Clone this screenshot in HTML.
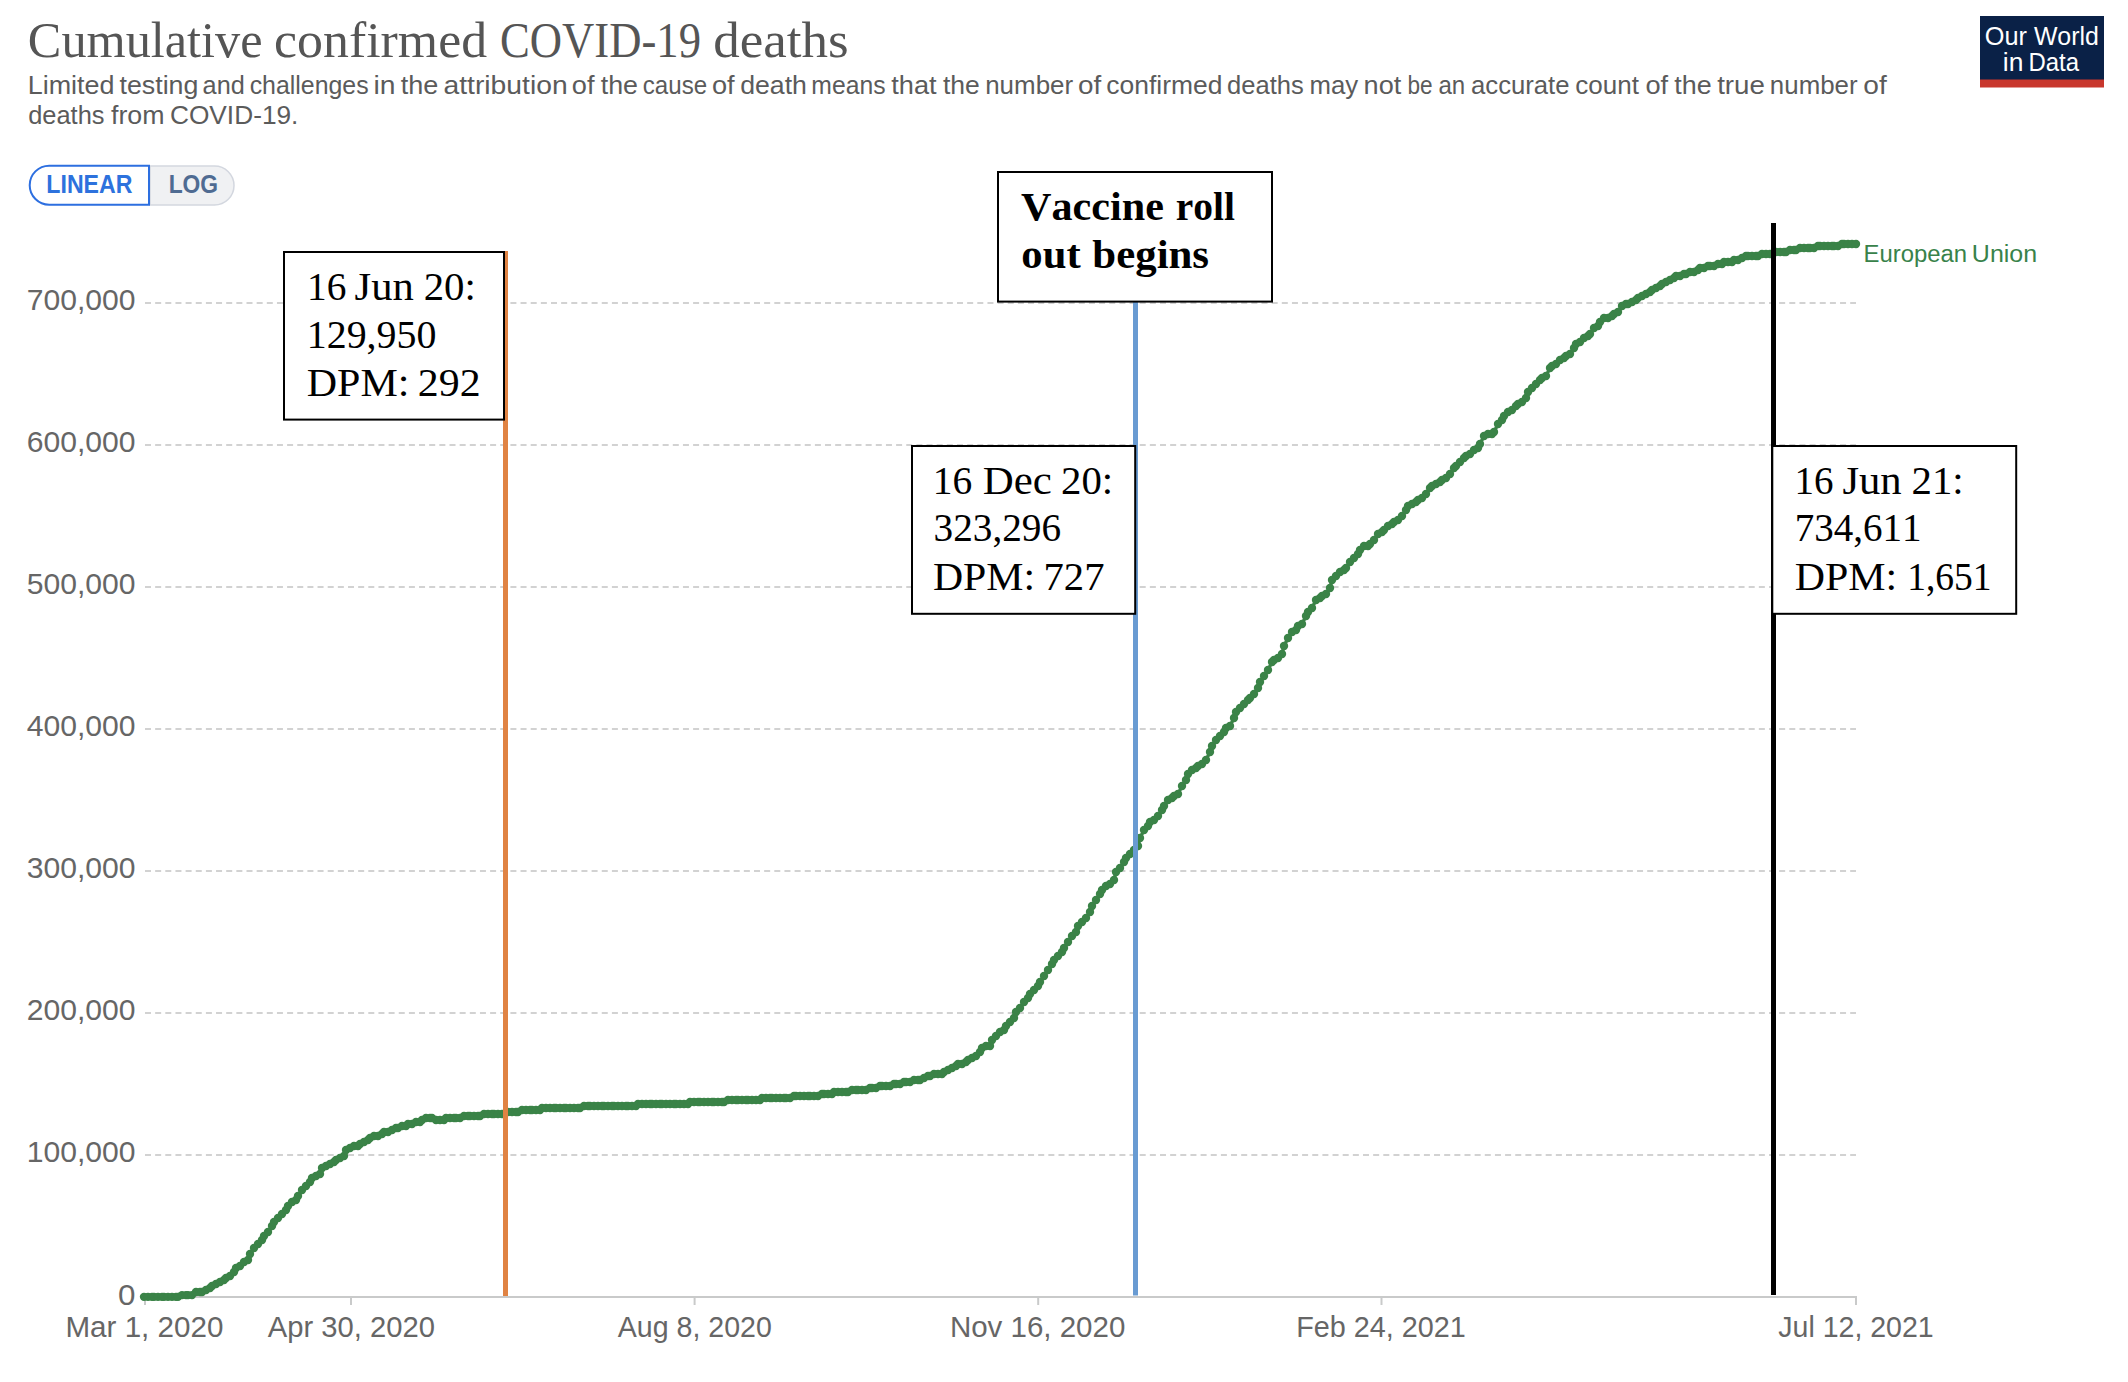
<!DOCTYPE html>
<html lang="en"><head><meta charset="utf-8"><title>Cumulative confirmed COVID-19 deaths</title>
<style>html,body{margin:0;padding:0;background:#fff}svg{display:block}text{white-space:pre;font-kerning:none}</style>
</head><body>
<svg width="2128" height="1382" viewBox="0 0 2128 1382">
<rect width="2128" height="1382" fill="#fff"/>
<text y="56.8" font-family='"Liberation Serif", "Times New Roman", serif' font-size="51" fill="#555"><tspan x="27.84" textLength="234.71" lengthAdjust="spacingAndGlyphs">Cumulative</tspan> <tspan x="274.13" textLength="212.91" lengthAdjust="spacingAndGlyphs">confirmed</tspan> <tspan x="500.07" textLength="200.96" lengthAdjust="spacingAndGlyphs">COVID-19</tspan> <tspan x="713.28" textLength="135.43" lengthAdjust="spacingAndGlyphs">deaths</tspan></text>
<text y="93.5" font-family='"Liberation Sans", Arial, sans-serif' font-size="25" fill="#5b5b5b"><tspan x="27.69" textLength="86.85" lengthAdjust="spacingAndGlyphs">Limited</tspan> <tspan x="119.49" textLength="78.93" lengthAdjust="spacingAndGlyphs">testing</tspan> <tspan x="202.63" textLength="42.20" lengthAdjust="spacingAndGlyphs">and</tspan> <tspan x="249.64" textLength="118.96" lengthAdjust="spacingAndGlyphs">challenges</tspan> <tspan x="373.41" textLength="22.03" lengthAdjust="spacingAndGlyphs">in</tspan> <tspan x="400.69" textLength="37.61" lengthAdjust="spacingAndGlyphs">the</tspan> <tspan x="443.50" textLength="124.14" lengthAdjust="spacingAndGlyphs">attribution</tspan> <tspan x="571.76" textLength="22.70" lengthAdjust="spacingAndGlyphs">of</tspan> <tspan x="600.69" textLength="37.30" lengthAdjust="spacingAndGlyphs">the</tspan> <tspan x="642.77" textLength="64.40" lengthAdjust="spacingAndGlyphs">cause</tspan> <tspan x="711.96" textLength="22.70" lengthAdjust="spacingAndGlyphs">of</tspan> <tspan x="740.18" textLength="66.75" lengthAdjust="spacingAndGlyphs">death</tspan> <tspan x="811.36" textLength="74.24" lengthAdjust="spacingAndGlyphs">means</tspan> <tspan x="891.29" textLength="45.31" lengthAdjust="spacingAndGlyphs">that</tspan> <tspan x="943.00" textLength="36.88" lengthAdjust="spacingAndGlyphs">the</tspan> <tspan x="985.18" textLength="87.95" lengthAdjust="spacingAndGlyphs">number</tspan> <tspan x="1078.03" textLength="23.23" lengthAdjust="spacingAndGlyphs">of</tspan> <tspan x="1106.28" textLength="116.13" lengthAdjust="spacingAndGlyphs">confirmed</tspan> <tspan x="1227.13" textLength="76.70" lengthAdjust="spacingAndGlyphs">deaths</tspan> <tspan x="1309.49" textLength="48.66" lengthAdjust="spacingAndGlyphs">may</tspan> <tspan x="1363.60" textLength="37.70" lengthAdjust="spacingAndGlyphs">not</tspan> <tspan x="1407.44" textLength="25.16" lengthAdjust="spacingAndGlyphs">be</tspan> <tspan x="1438.48" textLength="26.79" lengthAdjust="spacingAndGlyphs">an</tspan> <tspan x="1471.01" textLength="98.53" lengthAdjust="spacingAndGlyphs">accurate</tspan> <tspan x="1575.19" textLength="63.70" lengthAdjust="spacingAndGlyphs">count</tspan> <tspan x="1645.46" textLength="22.70" lengthAdjust="spacingAndGlyphs">of</tspan> <tspan x="1674.29" textLength="37.40" lengthAdjust="spacingAndGlyphs">the</tspan> <tspan x="1717.18" textLength="47.75" lengthAdjust="spacingAndGlyphs">true</tspan> <tspan x="1769.88" textLength="87.65" lengthAdjust="spacingAndGlyphs">number</tspan> <tspan x="1863.32" textLength="23.44" lengthAdjust="spacingAndGlyphs">of</tspan></text>
<text y="123.7" font-family='"Liberation Sans", Arial, sans-serif' font-size="25" fill="#5b5b5b"><tspan x="28.23" textLength="76.28" lengthAdjust="spacingAndGlyphs">deaths</tspan> <tspan x="111.02" textLength="53.54" lengthAdjust="spacingAndGlyphs">from</tspan> <tspan x="169.97" textLength="128.43" lengthAdjust="spacingAndGlyphs">COVID-19.</tspan></text>
<rect x="1980" y="16" width="124" height="64" fill="#0a2147"/>
<rect x="1980" y="79.5" width="124" height="8" fill="#c8372d"/>
<text y="44.6" font-family='"Liberation Sans", Arial, sans-serif' font-size="25.5" fill="#fff"><tspan x="1984.70" textLength="42.22" lengthAdjust="spacingAndGlyphs">Our</tspan> <tspan x="2033.89" textLength="65.01" lengthAdjust="spacingAndGlyphs">World</tspan></text>
<text y="70.8" font-family='"Liberation Sans", Arial, sans-serif' font-size="25.5" fill="#fff"><tspan x="2002.83" textLength="20.59" lengthAdjust="spacingAndGlyphs">in</tspan> <tspan x="2028.44" textLength="50.56" lengthAdjust="spacingAndGlyphs">Data</tspan></text>
<path d="M150,166 H214.5 a19.5,19.5 0 0 1 0,39 H150 Z" fill="#f0f1f3" stroke="#d3d7df" stroke-width="1.5"/>
<path d="M149,165.7 H49.2 a19.5,19.5 0 0 0 0,39 H149 Z" fill="#fff" stroke="#2d6fe0" stroke-width="2"/>
<text y="192.8" font-family='"Liberation Sans", Arial, sans-serif' font-size="25" fill="#2d72dd" font-weight="bold"><tspan x="46.35" textLength="86.02" lengthAdjust="spacingAndGlyphs">LINEAR</tspan></text>
<text y="192.8" font-family='"Liberation Sans", Arial, sans-serif' font-size="25" fill="#4f6b92" font-weight="bold"><tspan x="168.67" textLength="49.44" lengthAdjust="spacingAndGlyphs">LOG</tspan></text>
<line x1="145" y1="303" x2="1856" y2="303" stroke="#d2d2d2" stroke-width="2" stroke-dasharray="6,4.15"/>
<line x1="145" y1="445" x2="1856" y2="445" stroke="#d2d2d2" stroke-width="2" stroke-dasharray="6,4.15"/>
<line x1="145" y1="587" x2="1856" y2="587" stroke="#d2d2d2" stroke-width="2" stroke-dasharray="6,4.15"/>
<line x1="145" y1="729" x2="1856" y2="729" stroke="#d2d2d2" stroke-width="2" stroke-dasharray="6,4.15"/>
<line x1="145" y1="871" x2="1856" y2="871" stroke="#d2d2d2" stroke-width="2" stroke-dasharray="6,4.15"/>
<line x1="145" y1="1013" x2="1856" y2="1013" stroke="#d2d2d2" stroke-width="2" stroke-dasharray="6,4.15"/>
<line x1="145" y1="1155" x2="1856" y2="1155" stroke="#d2d2d2" stroke-width="2" stroke-dasharray="6,4.15"/>
<text y="309.7" font-family='"Liberation Sans", Arial, sans-serif' font-size="29.5" fill="#666"><tspan x="26.66" textLength="108.82" lengthAdjust="spacingAndGlyphs">700,000</tspan></text>
<text y="451.7" font-family='"Liberation Sans", Arial, sans-serif' font-size="29.5" fill="#666"><tspan x="26.66" textLength="108.82" lengthAdjust="spacingAndGlyphs">600,000</tspan></text>
<text y="593.7" font-family='"Liberation Sans", Arial, sans-serif' font-size="29.5" fill="#666"><tspan x="26.66" textLength="108.82" lengthAdjust="spacingAndGlyphs">500,000</tspan></text>
<text y="735.7" font-family='"Liberation Sans", Arial, sans-serif' font-size="29.5" fill="#666"><tspan x="26.66" textLength="108.82" lengthAdjust="spacingAndGlyphs">400,000</tspan></text>
<text y="877.7" font-family='"Liberation Sans", Arial, sans-serif' font-size="29.5" fill="#666"><tspan x="26.66" textLength="108.82" lengthAdjust="spacingAndGlyphs">300,000</tspan></text>
<text y="1019.7" font-family='"Liberation Sans", Arial, sans-serif' font-size="29.5" fill="#666"><tspan x="26.66" textLength="108.82" lengthAdjust="spacingAndGlyphs">200,000</tspan></text>
<text y="1161.7" font-family='"Liberation Sans", Arial, sans-serif' font-size="29.5" fill="#666"><tspan x="26.66" textLength="108.82" lengthAdjust="spacingAndGlyphs">100,000</tspan></text>
<text y="1304.7" font-family='"Liberation Sans", Arial, sans-serif' font-size="29.5" fill="#666"><tspan x="117.97" textLength="17.45" lengthAdjust="spacingAndGlyphs">0</tspan></text>
<line x1="144" y1="1297" x2="1857" y2="1297" stroke="#c9caca" stroke-width="2"/>
<line x1="145" y1="1297" x2="145" y2="1305" stroke="#c9caca" stroke-width="2"/>
<text y="1336.6" font-family='"Liberation Sans", Arial, sans-serif' font-size="29.5" fill="#666"><tspan x="65.47" textLength="157.88" lengthAdjust="spacingAndGlyphs">Mar 1, 2020</tspan></text>
<line x1="351" y1="1297" x2="351" y2="1305" stroke="#c9caca" stroke-width="2"/>
<text y="1336.6" font-family='"Liberation Sans", Arial, sans-serif' font-size="29.5" fill="#666"><tspan x="267.84" textLength="167.20" lengthAdjust="spacingAndGlyphs">Apr 30, 2020</tspan></text>
<line x1="694.6" y1="1297" x2="694.6" y2="1305" stroke="#c9caca" stroke-width="2"/>
<text y="1336.6" font-family='"Liberation Sans", Arial, sans-serif' font-size="29.5" fill="#666"><tspan x="617.84" textLength="153.97" lengthAdjust="spacingAndGlyphs">Aug 8, 2020</tspan></text>
<line x1="1038.2" y1="1297" x2="1038.2" y2="1305" stroke="#c9caca" stroke-width="2"/>
<text y="1336.6" font-family='"Liberation Sans", Arial, sans-serif' font-size="29.5" fill="#666"><tspan x="949.88" textLength="175.47" lengthAdjust="spacingAndGlyphs">Nov 16, 2020</tspan></text>
<line x1="1381.5" y1="1297" x2="1381.5" y2="1305" stroke="#c9caca" stroke-width="2"/>
<text y="1336.6" font-family='"Liberation Sans", Arial, sans-serif' font-size="29.5" fill="#666"><tspan x="1296.14" textLength="169.67" lengthAdjust="spacingAndGlyphs">Feb 24, 2021</tspan></text>
<line x1="1856" y1="1297" x2="1856" y2="1305" stroke="#c9caca" stroke-width="2"/>
<text y="1336.6" font-family='"Liberation Sans", Arial, sans-serif' font-size="29.5" fill="#666"><tspan x="1778.35" textLength="155.34" lengthAdjust="spacingAndGlyphs">Jul 12, 2021</tspan></text>
<path d="M144,1296.85 L148,1296.85 L152,1296.85 L154,1296.85 L158,1296.85 L162,1296.85 L164,1296.85 L168,1296.85 L172,1296.85 L176,1296.85 L178,1296.85 L182,1295.1 L186,1295.1 L188,1295.1 L192,1295.1 L196,1292 L200,1292 L202,1292 L206,1290 L210,1288 L212,1286 L216,1284 L220,1282 L224,1280 L226,1278 L230,1276 L234,1272 L236,1268 L240,1266 L244,1262 L248,1260 L250,1254 L254,1248 L258,1244 L262,1240 L264,1236 L268,1232 L272,1226 L274,1222 L278,1218 L282,1214 L286,1210 L288,1206 L292,1202 L296,1200 L298,1196 L302,1190 L306,1186 L310,1182 L312,1178 L316,1176 L320,1174 L322,1168 L326,1166 L330,1164 L334,1162 L336,1160 L340,1158 L344,1156 L346,1150 L350,1148 L354,1146 L358,1146 L360,1144 L364,1142 L368,1140 L370,1138 L374,1136 L378,1136 L382,1134 L384,1132 L388,1132 L392,1130 L396,1128 L398,1128 L402,1126 L406,1126 L408,1124 L412,1124 L416,1122 L420,1122 L422,1120 L426,1118 L430,1118 L432,1118 L436,1120 L440,1120 L444,1120 L446,1118 L450,1118 L454,1118 L456,1118 L460,1118 L464,1116 L468,1116 L470,1116 L474,1116 L478,1116 L480,1116 L484,1114 L488,1114 L492,1114 L494,1114 L498,1114 L502,1114 L504,1114 L508,1112 L512,1112 L516,1112 L518,1112 L522,1110 L526,1110 L530,1110 L532,1110 L536,1110 L540,1110 L542,1108 L546,1108 L550,1108 L554,1108 L556,1108 L560,1108 L564,1108 L566,1108 L570,1108 L574,1108 L578,1108 L580,1108 L584,1106 L588,1106 L590,1106 L594,1106 L598,1106 L602,1106 L604,1106 L608,1106 L612,1106 L614,1106 L618,1106 L622,1106 L626,1106 L628,1106 L632,1106 L636,1106 L638,1104 L642,1104 L646,1104 L650,1104 L652,1104 L656,1104 L660,1104 L662,1104 L666,1104 L670,1104 L674,1104 L676,1104 L680,1104 L684,1104 L688,1104 L690,1102 L694,1102 L698,1102 L700,1102 L704,1102 L708,1102 L712,1102 L714,1102 L718,1102 L722,1102 L724,1102 L728,1100 L732,1100 L736,1100 L738,1100 L742,1100 L746,1100 L748,1100 L752,1100 L756,1100 L760,1100 L762,1098 L766,1098 L770,1098 L772,1098 L776,1098 L780,1098 L784,1098 L786,1098 L790,1098 L794,1096 L796,1096 L800,1096 L804,1096 L808,1096 L810,1096 L814,1096 L818,1096 L822,1094 L824,1094 L828,1094 L832,1094 L834,1092 L838,1092 L842,1092 L846,1092 L848,1092 L852,1090 L856,1090 L858,1090 L862,1090 L866,1090 L870,1088 L872,1088 L876,1088 L880,1086 L882,1086 L886,1086 L890,1086 L894,1084 L896,1084 L900,1084 L904,1082 L906,1082 L910,1082 L914,1080 L918,1080 L920,1080 L924,1078 L928,1076 L930,1076 L934,1074 L938,1074 L942,1074 L944,1072 L948,1070 L952,1068 L956,1066 L958,1064 L962,1064 L966,1062 L968,1060 L972,1058 L976,1056 L980,1052 L982,1048 L986,1046 L990,1046 L992,1040 L996,1036 L1000,1032 L1004,1030 L1006,1026 L1010,1022 L1014,1018 L1016,1012 L1020,1008 L1024,1002 L1028,998 L1030,994 L1034,990 L1038,986 L1040,982 L1044,976 L1048,970 L1052,964 L1054,960 L1058,956 L1062,952 L1064,948 L1068,942 L1072,936 L1076,932 L1078,926 L1082,922 L1086,918 L1090,912 L1092,906 L1096,900 L1100,894 L1102,890 L1106,886 L1110,884 L1114,880 L1116,872 L1120,868 L1124,862 L1126,858 L1130,854 L1134,850 L1138,846 L1140,838 L1144,830 L1148,826 L1150,822 L1154,820 L1158,816 L1162,810 L1164,806 L1168,800 L1172,798 L1174,796 L1178,794 L1182,786 L1186,780 L1188,774 L1192,770 L1196,768 L1198,766 L1202,764 L1206,760 L1210,752 L1212,746 L1216,740 L1220,736 L1224,732 L1226,728 L1230,726 L1234,718 L1236,712 L1240,708 L1244,704 L1248,700 L1250,698 L1254,694 L1258,688 L1260,682 L1264,676 L1268,670 L1272,662 L1274,660 L1278,658 L1282,654 L1284,646 L1288,638 L1292,632 L1296,630 L1298,626 L1302,624 L1306,616 L1308,612 L1312,608 L1316,600 L1320,598 L1322,596 L1326,594 L1330,588 L1332,580 L1336,576 L1340,572 L1344,570 L1346,568 L1350,562 L1354,558 L1358,554 L1360,550 L1364,546 L1368,546 L1370,544 L1374,540 L1378,534 L1382,532 L1384,530 L1388,526 L1392,524 L1394,522 L1398,520 L1402,516 L1406,510 L1408,506 L1412,504 L1416,502 L1418,500 L1422,498 L1426,494 L1430,488 L1432,486 L1436,484 L1440,482 L1442,480 L1446,478 L1450,474 L1454,468 L1456,466 L1460,462 L1464,458 L1466,456 L1470,454 L1474,450 L1478,448 L1480,444 L1484,436 L1488,434 L1492,434 L1494,432 L1498,424 L1502,420 L1504,416 L1508,412 L1512,410 L1516,406 L1518,404 L1522,402 L1526,398 L1528,392 L1532,388 L1536,384 L1540,380 L1542,378 L1546,376 L1550,368 L1552,366 L1556,364 L1560,360 L1564,358 L1566,356 L1570,354 L1574,348 L1576,344 L1580,342 L1584,338 L1588,336 L1590,334 L1594,328 L1598,326 L1600,322 L1604,318 L1608,318 L1612,316 L1614,314 L1618,312 L1622,306 L1626,304 L1628,304 L1632,302 L1636,300 L1638,298 L1642,296 L1646,294 L1650,292 L1652,290 L1656,288 L1660,286 L1662,284 L1666,282 L1670,280 L1674,278 L1676,276 L1680,276 L1684,274 L1686,274 L1690,272 L1694,272 L1698,270 L1700,268 L1704,268 L1708,266 L1710,266 L1714,266 L1718,264 L1722,264 L1724,262 L1728,262 L1732,262 L1734,260 L1738,260 L1742,258 L1746,256 L1748,256 L1752,256 L1756,256 L1758,256 L1762,254 L1766,254 L1770,254 L1772,254 L1776,252 L1780,252 L1784,252 L1786,252 L1790,250 L1794,250 L1796,250 L1800,248 L1804,248 L1808,248 L1810,248 L1814,248 L1818,246 L1820,246 L1824,246 L1828,246 L1832,246 L1834,246 L1838,246 L1842,244 L1844,244 L1848,244 L1852,244 L1856,244" fill="none" stroke="#3a8347" stroke-width="3.4" stroke-linejoin="round" stroke-linecap="round"/>
<g fill="#3a8347">
<circle cx="144" cy="1296.85" r="4.2"/><circle cx="148" cy="1296.85" r="4.2"/><circle cx="152" cy="1296.85" r="4.2"/><circle cx="154" cy="1296.85" r="4.2"/><circle cx="158" cy="1296.85" r="4.2"/><circle cx="162" cy="1296.85" r="4.2"/><circle cx="164" cy="1296.85" r="4.2"/><circle cx="168" cy="1296.85" r="4.2"/><circle cx="172" cy="1296.85" r="4.2"/><circle cx="176" cy="1296.85" r="4.2"/><circle cx="178" cy="1296.85" r="4.2"/><circle cx="182" cy="1295.1" r="4.2"/><circle cx="186" cy="1295.1" r="4.2"/><circle cx="188" cy="1295.1" r="4.2"/><circle cx="192" cy="1295.1" r="4.2"/><circle cx="196" cy="1292" r="4.2"/><circle cx="200" cy="1292" r="4.2"/><circle cx="202" cy="1292" r="4.2"/><circle cx="206" cy="1290" r="4.2"/><circle cx="210" cy="1288" r="4.2"/><circle cx="212" cy="1286" r="4.2"/><circle cx="216" cy="1284" r="4.2"/><circle cx="220" cy="1282" r="4.2"/><circle cx="224" cy="1280" r="4.2"/><circle cx="226" cy="1278" r="4.2"/><circle cx="230" cy="1276" r="4.2"/><circle cx="234" cy="1272" r="4.2"/><circle cx="236" cy="1268" r="4.2"/><circle cx="240" cy="1266" r="4.2"/><circle cx="244" cy="1262" r="4.2"/><circle cx="248" cy="1260" r="4.2"/><circle cx="250" cy="1254" r="4.2"/><circle cx="254" cy="1248" r="4.2"/><circle cx="258" cy="1244" r="4.2"/><circle cx="262" cy="1240" r="4.2"/><circle cx="264" cy="1236" r="4.2"/><circle cx="268" cy="1232" r="4.2"/><circle cx="272" cy="1226" r="4.2"/><circle cx="274" cy="1222" r="4.2"/><circle cx="278" cy="1218" r="4.2"/><circle cx="282" cy="1214" r="4.2"/><circle cx="286" cy="1210" r="4.2"/><circle cx="288" cy="1206" r="4.2"/><circle cx="292" cy="1202" r="4.2"/><circle cx="296" cy="1200" r="4.2"/><circle cx="298" cy="1196" r="4.2"/><circle cx="302" cy="1190" r="4.2"/><circle cx="306" cy="1186" r="4.2"/><circle cx="310" cy="1182" r="4.2"/><circle cx="312" cy="1178" r="4.2"/><circle cx="316" cy="1176" r="4.2"/><circle cx="320" cy="1174" r="4.2"/><circle cx="322" cy="1168" r="4.2"/><circle cx="326" cy="1166" r="4.2"/><circle cx="330" cy="1164" r="4.2"/><circle cx="334" cy="1162" r="4.2"/><circle cx="336" cy="1160" r="4.2"/><circle cx="340" cy="1158" r="4.2"/><circle cx="344" cy="1156" r="4.2"/><circle cx="346" cy="1150" r="4.2"/><circle cx="350" cy="1148" r="4.2"/><circle cx="354" cy="1146" r="4.2"/><circle cx="358" cy="1146" r="4.2"/><circle cx="360" cy="1144" r="4.2"/><circle cx="364" cy="1142" r="4.2"/><circle cx="368" cy="1140" r="4.2"/><circle cx="370" cy="1138" r="4.2"/><circle cx="374" cy="1136" r="4.2"/><circle cx="378" cy="1136" r="4.2"/><circle cx="382" cy="1134" r="4.2"/><circle cx="384" cy="1132" r="4.2"/><circle cx="388" cy="1132" r="4.2"/><circle cx="392" cy="1130" r="4.2"/><circle cx="396" cy="1128" r="4.2"/><circle cx="398" cy="1128" r="4.2"/><circle cx="402" cy="1126" r="4.2"/><circle cx="406" cy="1126" r="4.2"/><circle cx="408" cy="1124" r="4.2"/><circle cx="412" cy="1124" r="4.2"/><circle cx="416" cy="1122" r="4.2"/><circle cx="420" cy="1122" r="4.2"/><circle cx="422" cy="1120" r="4.2"/><circle cx="426" cy="1118" r="4.2"/><circle cx="430" cy="1118" r="4.2"/><circle cx="432" cy="1118" r="4.2"/><circle cx="436" cy="1120" r="4.2"/><circle cx="440" cy="1120" r="4.2"/><circle cx="444" cy="1120" r="4.2"/><circle cx="446" cy="1118" r="4.2"/><circle cx="450" cy="1118" r="4.2"/><circle cx="454" cy="1118" r="4.2"/><circle cx="456" cy="1118" r="4.2"/><circle cx="460" cy="1118" r="4.2"/><circle cx="464" cy="1116" r="4.2"/><circle cx="468" cy="1116" r="4.2"/><circle cx="470" cy="1116" r="4.2"/><circle cx="474" cy="1116" r="4.2"/><circle cx="478" cy="1116" r="4.2"/><circle cx="480" cy="1116" r="4.2"/><circle cx="484" cy="1114" r="4.2"/><circle cx="488" cy="1114" r="4.2"/><circle cx="492" cy="1114" r="4.2"/><circle cx="494" cy="1114" r="4.2"/><circle cx="498" cy="1114" r="4.2"/><circle cx="502" cy="1114" r="4.2"/><circle cx="504" cy="1114" r="4.2"/><circle cx="508" cy="1112" r="4.2"/><circle cx="512" cy="1112" r="4.2"/><circle cx="516" cy="1112" r="4.2"/><circle cx="518" cy="1112" r="4.2"/><circle cx="522" cy="1110" r="4.2"/><circle cx="526" cy="1110" r="4.2"/><circle cx="530" cy="1110" r="4.2"/><circle cx="532" cy="1110" r="4.2"/><circle cx="536" cy="1110" r="4.2"/><circle cx="540" cy="1110" r="4.2"/><circle cx="542" cy="1108" r="4.2"/><circle cx="546" cy="1108" r="4.2"/><circle cx="550" cy="1108" r="4.2"/><circle cx="554" cy="1108" r="4.2"/><circle cx="556" cy="1108" r="4.2"/><circle cx="560" cy="1108" r="4.2"/><circle cx="564" cy="1108" r="4.2"/><circle cx="566" cy="1108" r="4.2"/><circle cx="570" cy="1108" r="4.2"/><circle cx="574" cy="1108" r="4.2"/><circle cx="578" cy="1108" r="4.2"/><circle cx="580" cy="1108" r="4.2"/><circle cx="584" cy="1106" r="4.2"/><circle cx="588" cy="1106" r="4.2"/><circle cx="590" cy="1106" r="4.2"/><circle cx="594" cy="1106" r="4.2"/><circle cx="598" cy="1106" r="4.2"/><circle cx="602" cy="1106" r="4.2"/><circle cx="604" cy="1106" r="4.2"/><circle cx="608" cy="1106" r="4.2"/><circle cx="612" cy="1106" r="4.2"/><circle cx="614" cy="1106" r="4.2"/><circle cx="618" cy="1106" r="4.2"/><circle cx="622" cy="1106" r="4.2"/><circle cx="626" cy="1106" r="4.2"/><circle cx="628" cy="1106" r="4.2"/><circle cx="632" cy="1106" r="4.2"/><circle cx="636" cy="1106" r="4.2"/><circle cx="638" cy="1104" r="4.2"/><circle cx="642" cy="1104" r="4.2"/><circle cx="646" cy="1104" r="4.2"/><circle cx="650" cy="1104" r="4.2"/><circle cx="652" cy="1104" r="4.2"/><circle cx="656" cy="1104" r="4.2"/><circle cx="660" cy="1104" r="4.2"/><circle cx="662" cy="1104" r="4.2"/><circle cx="666" cy="1104" r="4.2"/><circle cx="670" cy="1104" r="4.2"/><circle cx="674" cy="1104" r="4.2"/><circle cx="676" cy="1104" r="4.2"/><circle cx="680" cy="1104" r="4.2"/><circle cx="684" cy="1104" r="4.2"/><circle cx="688" cy="1104" r="4.2"/><circle cx="690" cy="1102" r="4.2"/><circle cx="694" cy="1102" r="4.2"/><circle cx="698" cy="1102" r="4.2"/><circle cx="700" cy="1102" r="4.2"/><circle cx="704" cy="1102" r="4.2"/><circle cx="708" cy="1102" r="4.2"/><circle cx="712" cy="1102" r="4.2"/><circle cx="714" cy="1102" r="4.2"/><circle cx="718" cy="1102" r="4.2"/><circle cx="722" cy="1102" r="4.2"/><circle cx="724" cy="1102" r="4.2"/><circle cx="728" cy="1100" r="4.2"/><circle cx="732" cy="1100" r="4.2"/><circle cx="736" cy="1100" r="4.2"/><circle cx="738" cy="1100" r="4.2"/><circle cx="742" cy="1100" r="4.2"/><circle cx="746" cy="1100" r="4.2"/><circle cx="748" cy="1100" r="4.2"/><circle cx="752" cy="1100" r="4.2"/><circle cx="756" cy="1100" r="4.2"/><circle cx="760" cy="1100" r="4.2"/><circle cx="762" cy="1098" r="4.2"/><circle cx="766" cy="1098" r="4.2"/><circle cx="770" cy="1098" r="4.2"/><circle cx="772" cy="1098" r="4.2"/><circle cx="776" cy="1098" r="4.2"/><circle cx="780" cy="1098" r="4.2"/><circle cx="784" cy="1098" r="4.2"/><circle cx="786" cy="1098" r="4.2"/><circle cx="790" cy="1098" r="4.2"/><circle cx="794" cy="1096" r="4.2"/><circle cx="796" cy="1096" r="4.2"/><circle cx="800" cy="1096" r="4.2"/><circle cx="804" cy="1096" r="4.2"/><circle cx="808" cy="1096" r="4.2"/><circle cx="810" cy="1096" r="4.2"/><circle cx="814" cy="1096" r="4.2"/><circle cx="818" cy="1096" r="4.2"/><circle cx="822" cy="1094" r="4.2"/><circle cx="824" cy="1094" r="4.2"/><circle cx="828" cy="1094" r="4.2"/><circle cx="832" cy="1094" r="4.2"/><circle cx="834" cy="1092" r="4.2"/><circle cx="838" cy="1092" r="4.2"/><circle cx="842" cy="1092" r="4.2"/><circle cx="846" cy="1092" r="4.2"/><circle cx="848" cy="1092" r="4.2"/><circle cx="852" cy="1090" r="4.2"/><circle cx="856" cy="1090" r="4.2"/><circle cx="858" cy="1090" r="4.2"/><circle cx="862" cy="1090" r="4.2"/><circle cx="866" cy="1090" r="4.2"/><circle cx="870" cy="1088" r="4.2"/><circle cx="872" cy="1088" r="4.2"/><circle cx="876" cy="1088" r="4.2"/><circle cx="880" cy="1086" r="4.2"/><circle cx="882" cy="1086" r="4.2"/><circle cx="886" cy="1086" r="4.2"/><circle cx="890" cy="1086" r="4.2"/><circle cx="894" cy="1084" r="4.2"/><circle cx="896" cy="1084" r="4.2"/><circle cx="900" cy="1084" r="4.2"/><circle cx="904" cy="1082" r="4.2"/><circle cx="906" cy="1082" r="4.2"/><circle cx="910" cy="1082" r="4.2"/><circle cx="914" cy="1080" r="4.2"/><circle cx="918" cy="1080" r="4.2"/><circle cx="920" cy="1080" r="4.2"/><circle cx="924" cy="1078" r="4.2"/><circle cx="928" cy="1076" r="4.2"/><circle cx="930" cy="1076" r="4.2"/><circle cx="934" cy="1074" r="4.2"/><circle cx="938" cy="1074" r="4.2"/><circle cx="942" cy="1074" r="4.2"/><circle cx="944" cy="1072" r="4.2"/><circle cx="948" cy="1070" r="4.2"/><circle cx="952" cy="1068" r="4.2"/><circle cx="956" cy="1066" r="4.2"/><circle cx="958" cy="1064" r="4.2"/><circle cx="962" cy="1064" r="4.2"/><circle cx="966" cy="1062" r="4.2"/><circle cx="968" cy="1060" r="4.2"/><circle cx="972" cy="1058" r="4.2"/><circle cx="976" cy="1056" r="4.2"/><circle cx="980" cy="1052" r="4.2"/><circle cx="982" cy="1048" r="4.2"/><circle cx="986" cy="1046" r="4.2"/><circle cx="990" cy="1046" r="4.2"/><circle cx="992" cy="1040" r="4.2"/><circle cx="996" cy="1036" r="4.2"/><circle cx="1000" cy="1032" r="4.2"/><circle cx="1004" cy="1030" r="4.2"/><circle cx="1006" cy="1026" r="4.2"/><circle cx="1010" cy="1022" r="4.2"/><circle cx="1014" cy="1018" r="4.2"/><circle cx="1016" cy="1012" r="4.2"/><circle cx="1020" cy="1008" r="4.2"/><circle cx="1024" cy="1002" r="4.2"/><circle cx="1028" cy="998" r="4.2"/><circle cx="1030" cy="994" r="4.2"/><circle cx="1034" cy="990" r="4.2"/><circle cx="1038" cy="986" r="4.2"/><circle cx="1040" cy="982" r="4.2"/><circle cx="1044" cy="976" r="4.2"/><circle cx="1048" cy="970" r="4.2"/><circle cx="1052" cy="964" r="4.2"/><circle cx="1054" cy="960" r="4.2"/><circle cx="1058" cy="956" r="4.2"/><circle cx="1062" cy="952" r="4.2"/><circle cx="1064" cy="948" r="4.2"/><circle cx="1068" cy="942" r="4.2"/><circle cx="1072" cy="936" r="4.2"/><circle cx="1076" cy="932" r="4.2"/><circle cx="1078" cy="926" r="4.2"/><circle cx="1082" cy="922" r="4.2"/><circle cx="1086" cy="918" r="4.2"/><circle cx="1090" cy="912" r="4.2"/><circle cx="1092" cy="906" r="4.2"/><circle cx="1096" cy="900" r="4.2"/><circle cx="1100" cy="894" r="4.2"/><circle cx="1102" cy="890" r="4.2"/><circle cx="1106" cy="886" r="4.2"/><circle cx="1110" cy="884" r="4.2"/><circle cx="1114" cy="880" r="4.2"/><circle cx="1116" cy="872" r="4.2"/><circle cx="1120" cy="868" r="4.2"/><circle cx="1124" cy="862" r="4.2"/><circle cx="1126" cy="858" r="4.2"/><circle cx="1130" cy="854" r="4.2"/><circle cx="1134" cy="850" r="4.2"/><circle cx="1138" cy="846" r="4.2"/><circle cx="1140" cy="838" r="4.2"/><circle cx="1144" cy="830" r="4.2"/><circle cx="1148" cy="826" r="4.2"/><circle cx="1150" cy="822" r="4.2"/><circle cx="1154" cy="820" r="4.2"/><circle cx="1158" cy="816" r="4.2"/><circle cx="1162" cy="810" r="4.2"/><circle cx="1164" cy="806" r="4.2"/><circle cx="1168" cy="800" r="4.2"/><circle cx="1172" cy="798" r="4.2"/><circle cx="1174" cy="796" r="4.2"/><circle cx="1178" cy="794" r="4.2"/><circle cx="1182" cy="786" r="4.2"/><circle cx="1186" cy="780" r="4.2"/><circle cx="1188" cy="774" r="4.2"/><circle cx="1192" cy="770" r="4.2"/><circle cx="1196" cy="768" r="4.2"/><circle cx="1198" cy="766" r="4.2"/><circle cx="1202" cy="764" r="4.2"/><circle cx="1206" cy="760" r="4.2"/><circle cx="1210" cy="752" r="4.2"/><circle cx="1212" cy="746" r="4.2"/><circle cx="1216" cy="740" r="4.2"/><circle cx="1220" cy="736" r="4.2"/><circle cx="1224" cy="732" r="4.2"/><circle cx="1226" cy="728" r="4.2"/><circle cx="1230" cy="726" r="4.2"/><circle cx="1234" cy="718" r="4.2"/><circle cx="1236" cy="712" r="4.2"/><circle cx="1240" cy="708" r="4.2"/><circle cx="1244" cy="704" r="4.2"/><circle cx="1248" cy="700" r="4.2"/><circle cx="1250" cy="698" r="4.2"/><circle cx="1254" cy="694" r="4.2"/><circle cx="1258" cy="688" r="4.2"/><circle cx="1260" cy="682" r="4.2"/><circle cx="1264" cy="676" r="4.2"/><circle cx="1268" cy="670" r="4.2"/><circle cx="1272" cy="662" r="4.2"/><circle cx="1274" cy="660" r="4.2"/><circle cx="1278" cy="658" r="4.2"/><circle cx="1282" cy="654" r="4.2"/><circle cx="1284" cy="646" r="4.2"/><circle cx="1288" cy="638" r="4.2"/><circle cx="1292" cy="632" r="4.2"/><circle cx="1296" cy="630" r="4.2"/><circle cx="1298" cy="626" r="4.2"/><circle cx="1302" cy="624" r="4.2"/><circle cx="1306" cy="616" r="4.2"/><circle cx="1308" cy="612" r="4.2"/><circle cx="1312" cy="608" r="4.2"/><circle cx="1316" cy="600" r="4.2"/><circle cx="1320" cy="598" r="4.2"/><circle cx="1322" cy="596" r="4.2"/><circle cx="1326" cy="594" r="4.2"/><circle cx="1330" cy="588" r="4.2"/><circle cx="1332" cy="580" r="4.2"/><circle cx="1336" cy="576" r="4.2"/><circle cx="1340" cy="572" r="4.2"/><circle cx="1344" cy="570" r="4.2"/><circle cx="1346" cy="568" r="4.2"/><circle cx="1350" cy="562" r="4.2"/><circle cx="1354" cy="558" r="4.2"/><circle cx="1358" cy="554" r="4.2"/><circle cx="1360" cy="550" r="4.2"/><circle cx="1364" cy="546" r="4.2"/><circle cx="1368" cy="546" r="4.2"/><circle cx="1370" cy="544" r="4.2"/><circle cx="1374" cy="540" r="4.2"/><circle cx="1378" cy="534" r="4.2"/><circle cx="1382" cy="532" r="4.2"/><circle cx="1384" cy="530" r="4.2"/><circle cx="1388" cy="526" r="4.2"/><circle cx="1392" cy="524" r="4.2"/><circle cx="1394" cy="522" r="4.2"/><circle cx="1398" cy="520" r="4.2"/><circle cx="1402" cy="516" r="4.2"/><circle cx="1406" cy="510" r="4.2"/><circle cx="1408" cy="506" r="4.2"/><circle cx="1412" cy="504" r="4.2"/><circle cx="1416" cy="502" r="4.2"/><circle cx="1418" cy="500" r="4.2"/><circle cx="1422" cy="498" r="4.2"/><circle cx="1426" cy="494" r="4.2"/><circle cx="1430" cy="488" r="4.2"/><circle cx="1432" cy="486" r="4.2"/><circle cx="1436" cy="484" r="4.2"/><circle cx="1440" cy="482" r="4.2"/><circle cx="1442" cy="480" r="4.2"/><circle cx="1446" cy="478" r="4.2"/><circle cx="1450" cy="474" r="4.2"/><circle cx="1454" cy="468" r="4.2"/><circle cx="1456" cy="466" r="4.2"/><circle cx="1460" cy="462" r="4.2"/><circle cx="1464" cy="458" r="4.2"/><circle cx="1466" cy="456" r="4.2"/><circle cx="1470" cy="454" r="4.2"/><circle cx="1474" cy="450" r="4.2"/><circle cx="1478" cy="448" r="4.2"/><circle cx="1480" cy="444" r="4.2"/><circle cx="1484" cy="436" r="4.2"/><circle cx="1488" cy="434" r="4.2"/><circle cx="1492" cy="434" r="4.2"/><circle cx="1494" cy="432" r="4.2"/><circle cx="1498" cy="424" r="4.2"/><circle cx="1502" cy="420" r="4.2"/><circle cx="1504" cy="416" r="4.2"/><circle cx="1508" cy="412" r="4.2"/><circle cx="1512" cy="410" r="4.2"/><circle cx="1516" cy="406" r="4.2"/><circle cx="1518" cy="404" r="4.2"/><circle cx="1522" cy="402" r="4.2"/><circle cx="1526" cy="398" r="4.2"/><circle cx="1528" cy="392" r="4.2"/><circle cx="1532" cy="388" r="4.2"/><circle cx="1536" cy="384" r="4.2"/><circle cx="1540" cy="380" r="4.2"/><circle cx="1542" cy="378" r="4.2"/><circle cx="1546" cy="376" r="4.2"/><circle cx="1550" cy="368" r="4.2"/><circle cx="1552" cy="366" r="4.2"/><circle cx="1556" cy="364" r="4.2"/><circle cx="1560" cy="360" r="4.2"/><circle cx="1564" cy="358" r="4.2"/><circle cx="1566" cy="356" r="4.2"/><circle cx="1570" cy="354" r="4.2"/><circle cx="1574" cy="348" r="4.2"/><circle cx="1576" cy="344" r="4.2"/><circle cx="1580" cy="342" r="4.2"/><circle cx="1584" cy="338" r="4.2"/><circle cx="1588" cy="336" r="4.2"/><circle cx="1590" cy="334" r="4.2"/><circle cx="1594" cy="328" r="4.2"/><circle cx="1598" cy="326" r="4.2"/><circle cx="1600" cy="322" r="4.2"/><circle cx="1604" cy="318" r="4.2"/><circle cx="1608" cy="318" r="4.2"/><circle cx="1612" cy="316" r="4.2"/><circle cx="1614" cy="314" r="4.2"/><circle cx="1618" cy="312" r="4.2"/><circle cx="1622" cy="306" r="4.2"/><circle cx="1626" cy="304" r="4.2"/><circle cx="1628" cy="304" r="4.2"/><circle cx="1632" cy="302" r="4.2"/><circle cx="1636" cy="300" r="4.2"/><circle cx="1638" cy="298" r="4.2"/><circle cx="1642" cy="296" r="4.2"/><circle cx="1646" cy="294" r="4.2"/><circle cx="1650" cy="292" r="4.2"/><circle cx="1652" cy="290" r="4.2"/><circle cx="1656" cy="288" r="4.2"/><circle cx="1660" cy="286" r="4.2"/><circle cx="1662" cy="284" r="4.2"/><circle cx="1666" cy="282" r="4.2"/><circle cx="1670" cy="280" r="4.2"/><circle cx="1674" cy="278" r="4.2"/><circle cx="1676" cy="276" r="4.2"/><circle cx="1680" cy="276" r="4.2"/><circle cx="1684" cy="274" r="4.2"/><circle cx="1686" cy="274" r="4.2"/><circle cx="1690" cy="272" r="4.2"/><circle cx="1694" cy="272" r="4.2"/><circle cx="1698" cy="270" r="4.2"/><circle cx="1700" cy="268" r="4.2"/><circle cx="1704" cy="268" r="4.2"/><circle cx="1708" cy="266" r="4.2"/><circle cx="1710" cy="266" r="4.2"/><circle cx="1714" cy="266" r="4.2"/><circle cx="1718" cy="264" r="4.2"/><circle cx="1722" cy="264" r="4.2"/><circle cx="1724" cy="262" r="4.2"/><circle cx="1728" cy="262" r="4.2"/><circle cx="1732" cy="262" r="4.2"/><circle cx="1734" cy="260" r="4.2"/><circle cx="1738" cy="260" r="4.2"/><circle cx="1742" cy="258" r="4.2"/><circle cx="1746" cy="256" r="4.2"/><circle cx="1748" cy="256" r="4.2"/><circle cx="1752" cy="256" r="4.2"/><circle cx="1756" cy="256" r="4.2"/><circle cx="1758" cy="256" r="4.2"/><circle cx="1762" cy="254" r="4.2"/><circle cx="1766" cy="254" r="4.2"/><circle cx="1770" cy="254" r="4.2"/><circle cx="1772" cy="254" r="4.2"/><circle cx="1776" cy="252" r="4.2"/><circle cx="1780" cy="252" r="4.2"/><circle cx="1784" cy="252" r="4.2"/><circle cx="1786" cy="252" r="4.2"/><circle cx="1790" cy="250" r="4.2"/><circle cx="1794" cy="250" r="4.2"/><circle cx="1796" cy="250" r="4.2"/><circle cx="1800" cy="248" r="4.2"/><circle cx="1804" cy="248" r="4.2"/><circle cx="1808" cy="248" r="4.2"/><circle cx="1810" cy="248" r="4.2"/><circle cx="1814" cy="248" r="4.2"/><circle cx="1818" cy="246" r="4.2"/><circle cx="1820" cy="246" r="4.2"/><circle cx="1824" cy="246" r="4.2"/><circle cx="1828" cy="246" r="4.2"/><circle cx="1832" cy="246" r="4.2"/><circle cx="1834" cy="246" r="4.2"/><circle cx="1838" cy="246" r="4.2"/><circle cx="1842" cy="244" r="4.2"/><circle cx="1844" cy="244" r="4.2"/><circle cx="1848" cy="244" r="4.2"/><circle cx="1852" cy="244" r="4.2"/><circle cx="1856" cy="244" r="4.2"/>
</g>
<text y="262.4" font-family='"Liberation Sans", Arial, sans-serif' font-size="23" fill="#38824a"><tspan x="1863.64" textLength="103.51" lengthAdjust="spacingAndGlyphs">European</tspan> <tspan x="1971.87" textLength="65.25" lengthAdjust="spacingAndGlyphs">Union</tspan></text>
<rect x="503" y="251" width="5" height="1045" fill="#e08343"/>
<rect x="1133" y="302" width="5" height="993.5" fill="#699bd2"/>
<rect x="1771" y="223" width="5" height="1072" fill="#000"/>
<rect x="284" y="252" width="220" height="167.60000000000002" fill="#fff" stroke="#000" stroke-width="2"/>
<rect x="998" y="172" width="274" height="129.60000000000002" fill="#fff" stroke="#000" stroke-width="2"/>
<rect x="912" y="446" width="223.20000000000005" height="167.79999999999995" fill="#fff" stroke="#000" stroke-width="2"/>
<rect x="1772.3" y="446" width="243.9000000000001" height="167.79999999999995" fill="#fff" stroke="#000" stroke-width="2"/>
<text y="300.1" font-family='"Liberation Serif", "Times New Roman", serif' font-size="40" fill="#000"><tspan x="307.04" textLength="39.33" lengthAdjust="spacingAndGlyphs">16</tspan> <tspan x="354.60" textLength="59.24" lengthAdjust="spacingAndGlyphs">Jun</tspan> <tspan x="423.71" textLength="52.10" lengthAdjust="spacingAndGlyphs">20:</tspan></text>
<text y="347.8" font-family='"Liberation Serif", "Times New Roman", serif' font-size="40" fill="#000"><tspan x="306.79" textLength="129.62" lengthAdjust="spacingAndGlyphs">129,950</tspan></text>
<text y="395.6" font-family='"Liberation Serif", "Times New Roman", serif' font-size="40" fill="#000"><tspan x="306.69" textLength="102.71" lengthAdjust="spacingAndGlyphs">DPM:</tspan> <tspan x="417.86" textLength="62.75" lengthAdjust="spacingAndGlyphs">292</tspan></text>
<text y="493.7" font-family='"Liberation Serif", "Times New Roman", serif' font-size="40" fill="#000"><tspan x="932.73" textLength="39.44" lengthAdjust="spacingAndGlyphs">16</tspan> <tspan x="982.76" textLength="69.06" lengthAdjust="spacingAndGlyphs">Dec</tspan> <tspan x="1061.01" textLength="52.10" lengthAdjust="spacingAndGlyphs">20:</tspan></text>
<text y="541.4" font-family='"Liberation Serif", "Times New Roman", serif' font-size="40" fill="#000"><tspan x="933.62" textLength="127.44" lengthAdjust="spacingAndGlyphs">323,296</tspan></text>
<text y="589.9" font-family='"Liberation Serif", "Times New Roman", serif' font-size="40" fill="#000"><tspan x="932.90" textLength="102.19" lengthAdjust="spacingAndGlyphs">DPM:</tspan> <tspan x="1043.52" textLength="60.95" lengthAdjust="spacingAndGlyphs">727</tspan></text>
<text y="493.7" font-family='"Liberation Serif", "Times New Roman", serif' font-size="40" fill="#000"><tspan x="1794.47" textLength="38.99" lengthAdjust="spacingAndGlyphs">16</tspan> <tspan x="1842.40" textLength="59.34" lengthAdjust="spacingAndGlyphs">Jun</tspan> <tspan x="1911.61" textLength="52.10" lengthAdjust="spacingAndGlyphs">21:</tspan></text>
<text y="541.4" font-family='"Liberation Serif", "Times New Roman", serif' font-size="40" fill="#000"><tspan x="1794.73" textLength="126.82" lengthAdjust="spacingAndGlyphs">734,611</tspan></text>
<text y="589.9" font-family='"Liberation Serif", "Times New Roman", serif' font-size="40" fill="#000"><tspan x="1794.69" textLength="102.51" lengthAdjust="spacingAndGlyphs">DPM:</tspan> <tspan x="1907.21" textLength="84.35" lengthAdjust="spacingAndGlyphs">1,651</tspan></text>
<text y="219.7" font-family='"Liberation Serif", "Times New Roman", serif' font-size="40" fill="#000" font-weight="bold"><tspan x="1021.03" textLength="142.86" lengthAdjust="spacingAndGlyphs">Vaccine</tspan> <tspan x="1175.64" textLength="59.24" lengthAdjust="spacingAndGlyphs">roll</tspan></text>
<text y="267.8" font-family='"Liberation Serif", "Times New Roman", serif' font-size="40" fill="#000" font-weight="bold"><tspan x="1021.37" textLength="59.31" lengthAdjust="spacingAndGlyphs">out</tspan> <tspan x="1092.36" textLength="116.69" lengthAdjust="spacingAndGlyphs">begins</tspan></text>
</svg></body></html>
